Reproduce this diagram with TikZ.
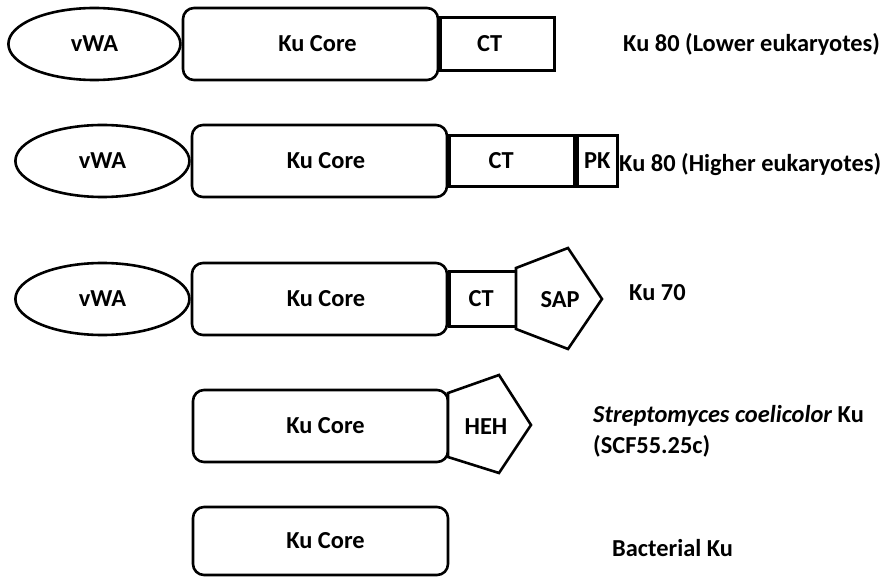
\documentclass[tikz,border=0pt]{standalone}
\usepackage{fontspec}
\setmainfont{Carlito}
\usetikzlibrary{shapes.geometric}
\newcommand{\rsh}[2]{\hspace*{#1}#2}
\newcommand{\lsh}[2]{#2\hspace*{#1}}
\begin{document}
\begin{tikzpicture}[x=1pt,y=-1pt,
  every node/.style={font=\fontsize{24.4}{28}\selectfont\bfseries, inner sep=0pt},
  dom/.style={draw=black, line width=2.6pt, fill=white},
  oval/.style={dom, ellipse},
  core/.style={dom, rectangle, rounded corners=11pt},
  box/.style={dom, rectangle},
  lbl/.style={anchor=base west}]
\useasboundingbox (0,0) rectangle (880,577);
% Row 1
\node[core, minimum width=255pt, minimum height=72pt] (core1) at (310.5,44) {\rsh{14pt}{Ku Core}};
\node[box, minimum width=114pt, minimum height=53pt, anchor=west] (ct1) at (core1.east) {\lsh{16pt}{CT}};
\node[oval, minimum width=172pt, minimum height=72pt, anchor=east] (vwa1) at (core1.west) {vWA};
\node[lbl] (l1) at (623,52) {Ku 80 (Lower eukaryotes)};
% Row 2
\node[core, minimum width=255pt, minimum height=72pt] (core2) at (319.5,161) {\rsh{13pt}{Ku Core}};
\node[box, minimum width=125pt, minimum height=51pt, anchor=west] (ct2) at (core2.east) {\lsh{22pt}{CT}};
\node[box, minimum width=40pt, minimum height=51pt, anchor=west] (pk2) at (ct2.east) {PK};
\node[oval, minimum width=174pt, minimum height=72pt, anchor=east] (vwa2) at (core2.west) {vWA};
\node[lbl] (l2) at (619,172) {Ku 80 (Higher eukaryotes)};
% Row 3
\node[core, minimum width=255pt, minimum height=72pt] (core3) at (319.5,299) {\rsh{13pt}{Ku Core}};
\node[box, minimum width=69pt, minimum height=55pt, anchor=west] (ct3) at (core3.east) {\lsh{6pt}{CT}};
\node[oval, minimum width=174pt, minimum height=72pt, anchor=east] (vwa3) at (core3.west) {vWA};
\coordinate (s1) at (516,268);
\coordinate (s2) at (568,248);
\coordinate (s3) at (602,299);
\coordinate (s4) at (568,349);
\coordinate (s5) at (516,329);
\draw[dom, line join=miter] (s1) -- (s2) -- (s3) -- (s4) -- (s5) -- cycle;
\node (sap) at (560,300) {SAP};
\node[lbl] (l3) at (629,300) {Ku 70};
% Row 4
\node[core, minimum width=255pt, minimum height=72pt] (core4) at (320.5,426) {\rsh{10pt}{Ku Core}};
\coordinate (h1) at (448,393);
\coordinate (h2) at (499,375);
\coordinate (h3) at (531,425);
\coordinate (h4) at (499,473);
\coordinate (h5) at (448,457);
\draw[dom, line join=miter] (h1) -- (h2) -- (h3) -- (h4) -- (h5) -- cycle;
\node (heh) at (486,427) {HEH};
\node[lbl] (l4a) at (593,422) {\textit{Streptomyces coelicolor} Ku};
\node[lbl] (l4b) at (593,453) {(SCF55.25c)};
% Row 5
\node[core, minimum width=255pt, minimum height=68pt] (core5) at (320.5,541) {\rsh{10pt}{Ku Core}};
\node[lbl] (l5) at (612,556) {Bacterial Ku};
\end{tikzpicture}
\end{document}
